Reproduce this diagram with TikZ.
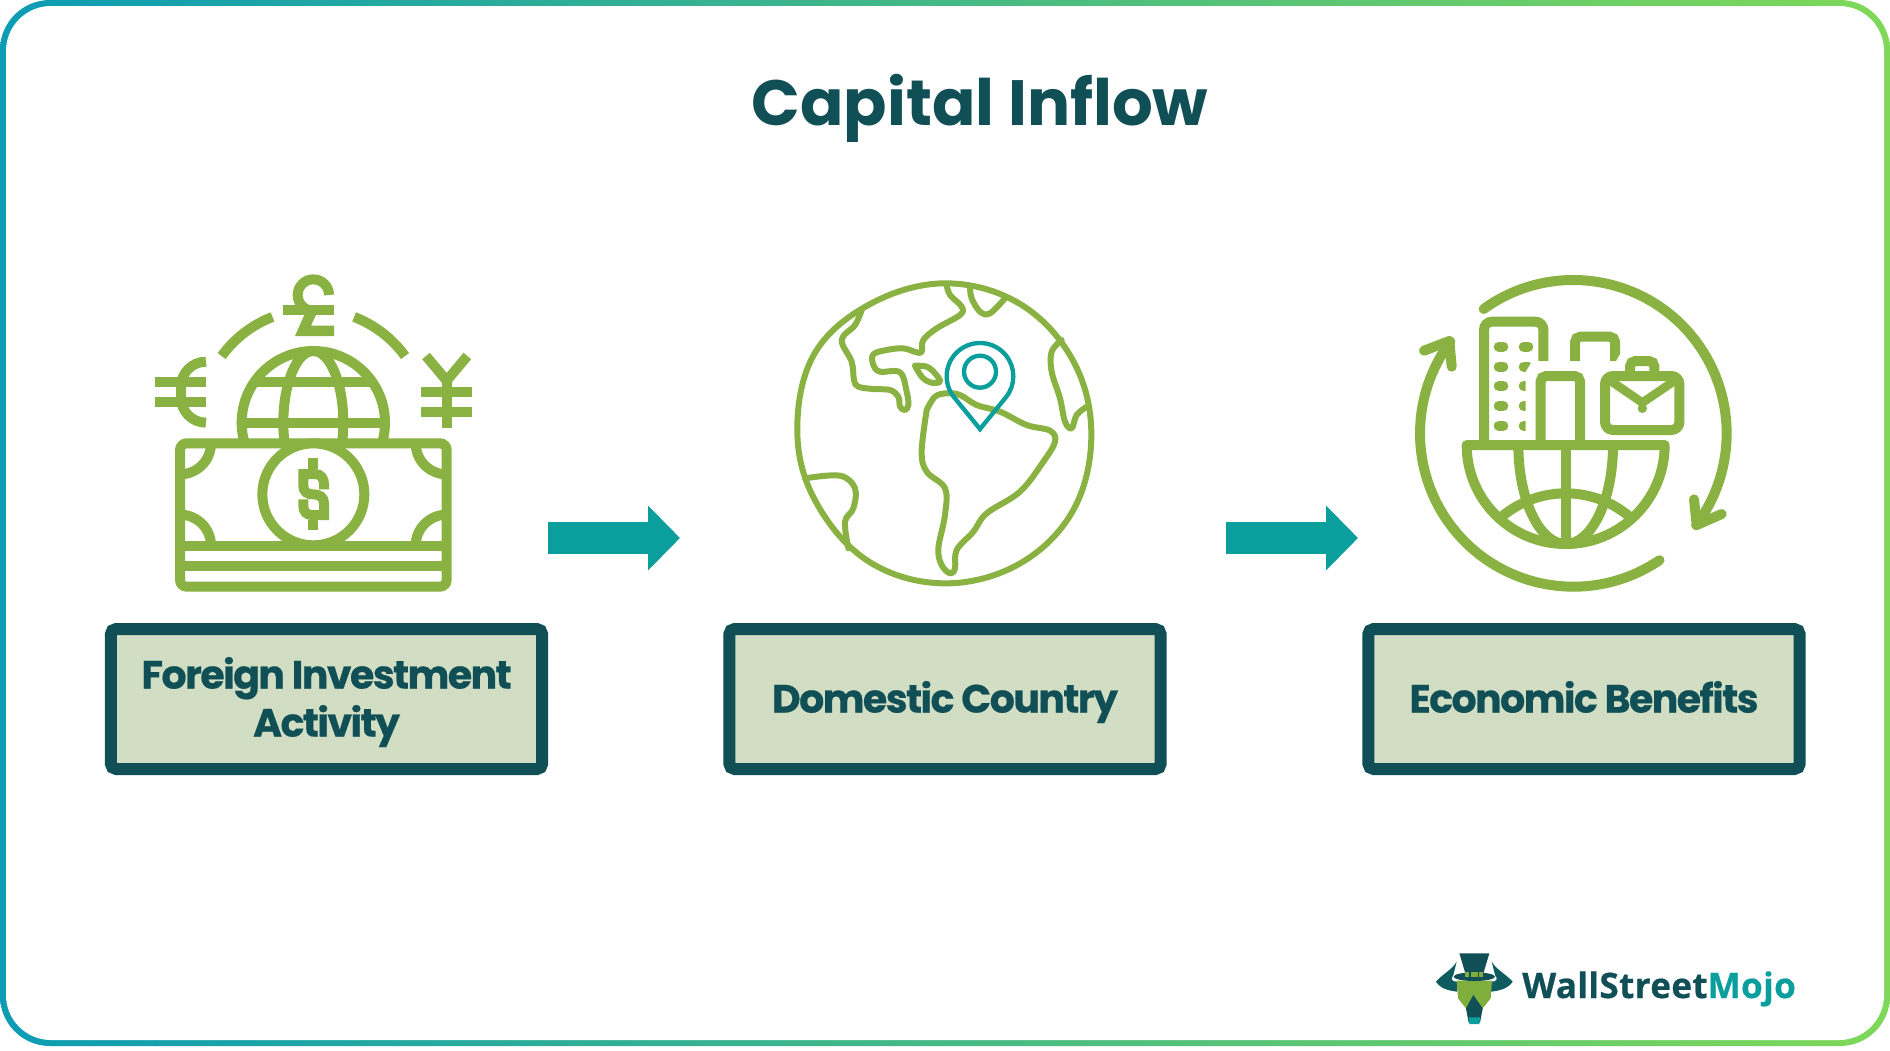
\documentclass[tikz,border=0pt]{standalone}
\usepackage{fontspec}
\setmainfont{Poppins}
\newfontfamily\titlefont[BoldFont=Poppins Bold]{Poppins}
\newfontfamily\boxfont[LetterSpace=-4,FakeBold=0.5]{Poppins Bold}
\newfontfamily\logofont[LetterSpace=1,FakeBold=0.6]{Open Sans Bold}
\usetikzlibrary{arrows.meta}
\definecolor{igreen}{HTML}{8AB243}
\definecolor{idark}{HTML}{0F4F55}
\definecolor{iteal}{HTML}{0A9E9C}
\definecolor{ifill}{HTML}{D1DEC4}
\definecolor{bleft}{HTML}{0C9CB4}
\definecolor{bright}{HTML}{7FD858}
\definecolor{lgreen}{HTML}{7FAE3C}
\newcommand{\evenline}{\vphantom{Agy}}
\newcommand{\topline}{\vphantom{Agy}\rule{0pt}{28.5pt}}
\tikzset{
  labelbox/.style={draw=idark,fill=ifill,line width=9pt,rounded corners=4pt,
    minimum width=323.5pt,minimum height=105pt,inner sep=0pt,align=center,
    text=idark,font=\boxfont\fontsize{29.6}{36}\selectfont},
  bigarrow/.style={draw=iteal,line width=24pt,-{Triangle[length=24pt,width=47.25pt]}},
  thick icon/.style={draw=igreen,line width=7.5pt,miter limit=10},
  round icon/.style={draw=igreen,line width=7.5pt,line cap=round,line join=round},
  map line/.style={draw=igreen,line width=4.5pt,line cap=round,line join=round},
  pin line/.style={draw=iteal,line width=3.25pt,line join=miter},
  zoomed/.style={x=.25pt,y=.25pt},
}
\begin{document}
\begin{tikzpicture}[x=.75pt,y=.75pt,yscale=-1]
\useasboundingbox (0,0) rectangle (1890,1050);
\fill[white] (0,0) rectangle (1890,1050);
% frame
\shade[left color=bleft,right color=bright,rounded corners=37.5pt] (0,0) rectangle (1890,1046);
\fill[white,rounded corners=33.75pt] (6,6) rectangle (1884,1040);
% title
\node[anchor=base,text=idark,font=\titlefont\bfseries\fontsize{48}{56}\selectfont] (title) at (980,125) {Capital Inflow};
% boxes
\node[labelbox] (b1) at (326.5,699) {\topline Foreign Investment\\\evenline Activity};
\node[labelbox] (b2) at (945,699) {\topline Domestic Country};
\node[labelbox] (b3) at (1584,699) {\topline Economic Benefits};
% arrows
\coordinate (a1s) at (548,538); \coordinate (a1e) at (680,538);
\coordinate (a2s) at (1226,538); \coordinate (a2e) at (1358,538);
\draw[bigarrow] (a1s) -- (a1e);
\draw[bigarrow] (a2s) -- (a2e);

% ---------- icon 1
\begin{scope}[shift={(130,260)},zoomed]
  \begin{scope}
    \clip (250,0) rectangle (850,540);
    \draw[thick icon] (550,488) circle[radius=215];
    \draw[thick icon] (550,488) ellipse[x radius=90,y radius=215];
    \draw[thick icon] (374,365) -- (726,365);
    \draw[thick icon] (335,488) -- (765,488);
  \end{scope}
  \draw[thick icon,rounded corners=5pt] (150,550) rectangle (950,980);
  \draw[thick icon] (150,857) -- (950,857);
  \draw[thick icon] (150,917) -- (950,917);
  \fill[white] (550,703) circle[radius=140];
  \draw[thick icon] (550,703) circle[radius=153];
  \begin{scope}
    \clip (150,550) rectangle (950,857);
    \draw[thick icon] (150,550) circle[radius=93];
    \draw[thick icon] (950,550) circle[radius=93];
    \draw[thick icon] (150,857) circle[radius=93];
    \draw[thick icon] (950,857) circle[radius=93];
  \end{scope}
  % dollar
  \draw[thick icon] (550,595) -- (550,628);
  \draw[thick icon] (550,780) -- (550,810);
  \draw[thick icon] (582,688) -- (582,672) .. controls (582,655) and (572,642) .. (555,642) -- (520,642) -- (520,678) .. controls (520,695) and (532,703) .. (548,703) .. controls (570,703) and (582,712) .. (582,730) -- (582,765) -- (545,765) .. controls (530,765) and (520,755) .. (520,738) -- (520,718);
  % outer arcs
  \draw[thick icon] (550,488) ++(-36:340) arc[start angle=-36,end angle=-68.9,radius=340];
  \draw[thick icon] (550,488) ++(-111.1:340) arc[start angle=-111.1,end angle=-144,radius=340];
  % pound
  \draw[thick icon] (597,105) arc[start angle=0,end angle=-270,radius=47];
  \draw[thick icon] (458,150) -- (612,150);
  \fill[igreen] (525,160) -- (560,160) -- (543,197) -- (612,197) -- (612,228) -- (495,228) -- cycle;
  % euro
  \draw[thick icon] (228,305) arc[start angle=-90,end angle=-180,radius=75] -- (153,413) arc[start angle=180,end angle=90,radius=75];
  \draw[thick icon] (75,365) -- (228,365);
  \draw[thick icon] (75,427) -- (228,427);
  % yen
  \draw[thick icon] (888,288) -- (950,362) -- (1012,288);
  \draw[thick icon] (950,360) -- (950,503);
  \draw[thick icon] (873,395) -- (1027,395);
  \draw[thick icon] (873,457) -- (1027,457);
\end{scope}

% ---------- icon 2
\begin{scope}[shift={(780,265)},zoomed]
  \draw[map line] plot[smooth cycle,tension=.63] coordinates {(492,55)(717,115)(877,283)(934,505)(880,735)(717,897)(490,955)(267,890)(110,715)(52,505)(100,272)(265,120)};
  \draw[map line] plot[smooth,tension=.6] coordinates {(500,60)(510,90)(545,125)(540,150)(470,190)(430,225)(425,260)(410,262)(370,250)(320,255)(280,268)(280,300)(300,320)(360,322)(380,380)(385,420)(375,435)(360,425)(355,395)(330,375)(280,372)(235,365)(222,345)(215,290)(185,225)(225,180)(245,135)};
  \draw[map line] plot[smooth,tension=.6] coordinates {(570,65)(575,100)(600,140)(630,145)(675,100)};
  \draw[map line] plot[smooth,tension=.6] coordinates {(405,302)(440,305)(465,325)(480,350)(450,352)(425,335)(405,302)};
  \draw[map line] plot[smooth,tension=.6] coordinates {(440,435)(465,395)(500,385)(540,390)(590,420)(660,440)(740,480)(810,497)(825,530)(790,590)(720,680)(620,745)(580,800)(530,855)(525,910)(510,925)(485,900)(475,850)(495,750)(495,670)(440,620)(425,560)(440,435)};
  \draw[map line] plot[smooth,tension=.6] coordinates {(845,225)(815,260)(815,320)(840,400)(855,470)(875,490)(890,450)(920,425)};
  \draw[map line] plot[smooth,tension=.6] coordinates {(75,640)(180,632)(225,670)(220,730)(195,770)(205,850)};
  \draw[pin line] (600,320) circle[radius=48];
  \draw[pin line] (600,492) -- (522.6,397.3) arc[start angle=140.7,end angle=399.3,radius=100] -- cycle;
\end{scope}

% ---------- icon 3
\begin{scope}[shift={(1400,260)},zoomed]
  \draw[round icon] (520,520) ++(-125.8:460) arc[start angle=-125.8,end angle=36.8,radius=460];
  \draw[round icon] (882,718) -- (890,795) -- (965,762);
  \draw[round icon] (520,520) ++(55.8:460) arc[start angle=55.8,end angle=216.7,radius=460];
  \draw[round icon] (72,272) -- (148,243) -- (155,320);
  % buildings
  \draw[thick icon,rounded corners=6pt] (252,560) -- (252,185) -- (430,185) -- (430,303);
  \draw[thick icon,rounded corners=4pt] (422,560) -- (422,348) -- (540,348) -- (540,560);
  \draw[thick icon,rounded corners=4pt] (525,303) -- (525,230) -- (645,230) -- (645,280);
  \fill[igreen] (630,275) -- (660,275) -- (660,282) -- (648,303) -- (630,303) -- cycle;
  % windows
  \foreach \yy in {260,320,378,438,497}{
    \draw[round icon] (296,\yy) -- (310,\yy);
  }
  \draw[round icon] (371,260) -- (385,260);
  \begin{scope}
    \clip (350,300) -- (398,300) -- (377,335) -- (377,520) -- (350,520) -- cycle;
    \foreach \yy in {320,378,438,497}{
      \draw[round icon] (371,\yy) -- (385,\yy);
    }
  \end{scope}
  % briefcase
  \draw[thick icon,rounded corners=6pt] (615,348) rectangle (838,510);
  \draw[thick icon,rounded corners=4pt] (690,340) -- (690,303) -- (763,303) -- (763,340);
  \draw[thick icon,line width=6.5pt] (625,358) -- (727,428) -- (830,358);
  \fill[igreen] (727,445) circle[radius=14];
  % half globe
  \draw[round icon] (200,555) -- (794,555) arc[start angle=0,end angle=180,radius=297] -- cycle;
  \draw[thick icon] (497,555) -- (497,855);
  \draw[thick icon] (639,555) arc[start angle=0,end angle=180,x radius=142,y radius=297];
  \draw[thick icon] (497,998) ++(-130:298) arc[start angle=-130,end angle=-50,radius=298];
\end{scope}

% ---------- logo
\begin{scope}[shift={(1420,940)},zoomed]
  \fill[idark!85!iteal] (110,65) .. controls (95,90) and (70,100) .. (48,125) .. controls (60,145) and (85,152) .. (112,155) -- (112,125) .. controls (95,125) and (90,118) .. (100,105) -- cycle;
  \fill[idark!85!iteal] (215,65) .. controls (230,90) and (255,100) .. (278,125) .. controls (265,145) and (240,152) .. (213,155) -- (213,125) .. controls (230,125) and (235,118) .. (225,105) -- cycle;
  \fill[lgreen] (110,122) -- (216,122) -- (212,175) -- (188,205) -- (178,245) -- (148,245) -- (138,205) -- (114,175) -- cycle;
  \fill[idark] (160,165) -- (188,205) -- (180,248) -- (146,248) -- (138,205) -- cycle;
  \fill[iteal] (146,232) -- (180,232) -- (178,252) -- (148,252) -- cycle;
  \fill[idark] (118,40) -- (208,40) -- (190,100) -- (136,100) -- cycle;
  \fill[idark] (163,110) ellipse[x radius=62,y radius=13];
  \fill[lgreen] (136,96) rectangle (190,112);
  \draw[idark,line width=1pt] (150,95) rectangle (176,113);
\end{scope}
\node[anchor=base west,inner sep=0pt,font=\logofont\fontsize{26.3}{30}\selectfont,text=idark] (logo) at (1522,998) {WallStreet\textcolor{iteal}{Mojo}};
\end{tikzpicture}
\end{document}
